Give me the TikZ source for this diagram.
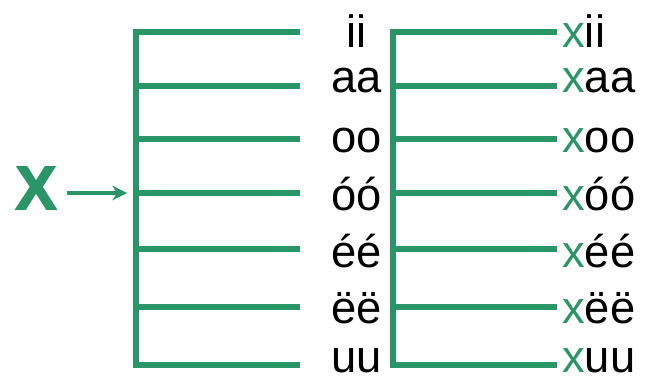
\documentclass[tikz,border=0pt]{standalone}
\usepackage{fontspec}
\setmainfont{Liberation Sans}
\usetikzlibrary{arrows.meta}
\definecolor{grn}{RGB}{42,150,104}
\tikzset{
  bar/.style={draw=grn, line width=3.8pt},
  word/.style={inner sep=0pt, anchor=base, font=\fontsize{34}{34}\selectfont, text=black},
  xword/.style={inner sep=0pt, anchor=base west, font=\fontsize{34}{34}\selectfont, text=black},
  bigx/.style={inner sep=0pt, font=\fontsize{46}{46}\selectfont\bfseries, text=grn},
  arr/.style={draw=grn, line width=2.4pt, -{Stealth[length=11pt,width=11pt]}}
}
\begin{document}
\begin{tikzpicture}[x=0.75pt,y=-0.75pt]
\useasboundingbox (0,0) rectangle (645,379);
% big X and arrow
\node[bigx, anchor=base] (X) at (36,209) {\special{pdf:literal direct 2 Tr 1.2 w 0.165 0.588 0.408 RG}X\special{pdf:literal direct 0 Tr}};
\coordinate (arrS) at (67,193);
\coordinate (arrE) at (127,193);
\draw[arr] (arrS) -- (arrE);
% left bracket
\coordinate (lt) at (136,32);
\coordinate (lb) at (136,365);
\draw[bar, line cap=rect] (lt) -- (lb);
% right bracket
\coordinate (rt) at (393,32);
\coordinate (rb) at (393,365);
\draw[bar, line cap=rect] (rt) -- (rb);
% rows
\foreach \i/\y/\b/\w in {1/32/47/ii, 2/86/92/aa, 3/139/152/oo, 4/193/210/óó, 5/249/267/éé, 6/307/323/ëë, 7/365/372/uu}{
  \coordinate (la\i) at (136,\y);
  \coordinate (lz\i) at (300,\y);
  \draw[bar] (la\i) -- (lz\i);
  \node[word] (w\i) at (357,\b) {\w};
  \coordinate (ra\i) at (393,\y);
  \coordinate (rz\i) at (557,\y);
  \draw[bar] (ra\i) -- (rz\i);
  \node[xword] (x\i) at (562,\b) {\textcolor{grn}{x}\w};
}
\end{tikzpicture}
\end{document}
